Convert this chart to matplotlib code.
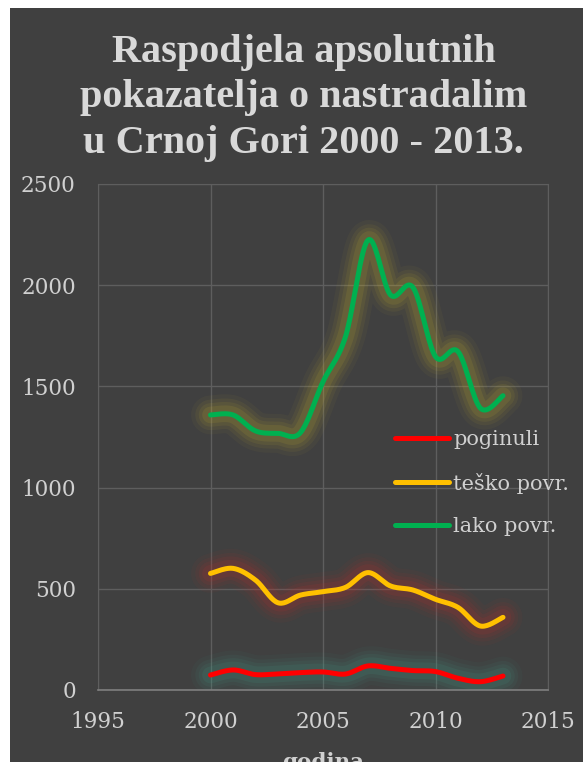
import numpy as np
import matplotlib
matplotlib.use("Agg")
import matplotlib.pyplot as plt
from matplotlib.patches import Rectangle

years = [2000, 2001, 2002, 2003, 2004, 2005, 2006, 2007, 2008, 2009, 2010, 2011, 2012, 2013]
poginuli = [74, 99, 76, 80, 86, 89, 79, 119, 107, 96, 91, 58, 41, 69]
tesko = [576, 601, 543, 431, 469, 486, 507, 580, 514, 494, 448, 408, 316, 359]
lako = [1359, 1359, 1280, 1268, 1272, 1523, 1746, 2223, 1952, 1989, 1647, 1672, 1392, 1454]

series_names = ["poginuli", "teško povr.", "lako povr."]
series_colors = ["#ff0000", "#ffc000", "#00b050"]
glow_colors = ["#3f9e8a", "#c0302a", "#c8b030"]

title = "Raspodjela apsolutnih\npokazatelja o nastradalim\nu Crnoj Gori 2000 - 2013."
xlabel = "godina"
xticks = [1995, 2000, 2005, 2010, 2015]
yticks = [0, 500, 1000, 1500, 2000, 2500]


def smooth(xs, ys, n=20):
    # Catmull-Rom style Bezier smoothing (as in spreadsheet "smoothed line")
    xs = np.asarray(xs, float)
    ys = np.asarray(ys, float)
    P = np.column_stack([xs, ys])
    out = []
    for i in range(len(P) - 1):
        p0 = P[i - 1] if i > 0 else P[i]
        p1 = P[i]
        p2 = P[i + 1]
        p3 = P[i + 2] if i + 2 < len(P) else P[i + 1]
        c1 = p1 + (p2 - p0) / 6.0
        c2 = p2 - (p3 - p1) / 6.0
        t = np.linspace(0, 1, n, endpoint=(i == len(P) - 2))[:, None]
        seg = (1 - t) ** 3 * p1 + 3 * (1 - t) ** 2 * t * c1 + 3 * (1 - t) * t ** 2 * c2 + t ** 3 * p2
        out.append(seg)
    arr = np.vstack(out)
    return arr[:, 0], arr[:, 1]


fig = plt.figure(figsize=(5.83, 7.62), dpi=100)
fig.patch.set_facecolor("white")
fig.patches.append(Rectangle((10 / 583, 0), 1, 1 - 8 / 762, transform=fig.transFigure,
                             facecolor="#404040", edgecolor="none", zorder=-10))

ax = fig.add_axes([98 / 583, 1 - 690 / 762, 450 / 583, 506 / 762])
ax.set_zorder(2)
ax.set_facecolor("none")
ax.set_xlim(1995, 2015)
ax.set_ylim(0, 2500)
ax.set_xticks(xticks)
ax.set_yticks(yticks)
ax.grid(True, color="#5e5e5e", linewidth=1.0)
ax.set_axisbelow(True)
for s in ["top", "right", "left"]:
    ax.spines[s].set_color("#5e5e5e")
ax.spines["bottom"].set_color("#7f7f7f")
ax.spines["bottom"].set_linewidth(1.2)
ax.tick_params(length=0, colors="#d0d0d0", labelsize=15.5)
ax.tick_params(axis="x", pad=15)
ax.tick_params(axis="y", pad=16)
for lab in ax.get_xticklabels() + ax.get_yticklabels():
    lab.set_family("DejaVu Serif")
    lab.set_color("#d0d0d0")

data = [poginuli, tesko, lako]
handles = []
for vals, col, gcol, name in zip(data, series_colors, glow_colors, series_names):
    sx, sy = smooth(years, vals)
    for lw, a in [(28, 0.05), (22, 0.07), (17, 0.09), (12, 0.12)]:
        ax.plot(sx, sy, color=gcol, linewidth=lw, alpha=a, solid_capstyle="round",
                solid_joinstyle="round", zorder=2)
    h, = ax.plot(sx, sy, color=col, linewidth=3.6, solid_capstyle="round",
                 solid_joinstyle="round", zorder=3, label=name)
    handles.append(h)

leg = ax.legend(handles=handles, loc="upper left", bbox_to_anchor=(0.66, 0.513),
                frameon=False, prop={"family": "DejaVu Serif", "size": 15},
                labelcolor="#d0d0d0", handlelength=2.6, handletextpad=0.2,
                labelspacing=1.12, borderaxespad=0, borderpad=0)

fig.text(0.5 + 12 / 583, 1 - 98 / 762, title, ha="center", va="center",
         family="Liberation Serif", fontweight="bold", fontsize=29, color="#d9d9d9",
         linespacing=1.3)
ax.set_xlabel(xlabel, family="DejaVu Serif", fontweight="bold", fontsize=15.5,
              color="#d0d0d0", labelpad=14)

fig.savefig("out.png", dpi=100, facecolor=fig.get_facecolor())
